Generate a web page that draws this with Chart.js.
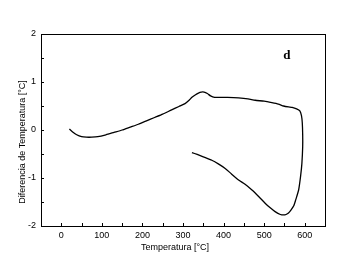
<!DOCTYPE html>
<html>
<head>
<meta charset="utf-8">
<script src="https://cdn.jsdelivr.net/npm/chart.js@4.4.1/dist/chart.umd.min.js"></script>
<style>
  html, body { margin: 0; padding: 0; background: #fff; }
  #wrap { width: 342px; height: 265px; position: relative; }
</style>
</head>
<body>
<div id="wrap"><canvas id="chart"></canvas></div>
<script>
// Temperatura [°C] along the run (heating up to ~595, then cooling back)
const temps = [20, 28, 38, 50, 62, 75, 90, 110, 130, 150, 170, 190, 210, 230, 250, 272, 290, 305, 315, 322,
  330, 338, 345, 352, 360, 368, 378, 390, 410, 437, 460, 478, 500, 519, 535, 548, 560, 569, 580, 588,
  592, 594, 595, 595, 593, 590, 585, 578, 573, 566, 560, 554, 548, 540, 527, 515, 503, 487, 470, 453,
  437, 420, 404, 388, 371, 350, 335, 322];
// Diferencia de Temperatura [°C]
const diffs = [0.02, -0.04, -0.10, -0.14, -0.15, -0.15, -0.14, -0.10, -0.05, 0.00, 0.06, 0.12, 0.19, 0.26, 0.33, 0.42, 0.49, 0.55, 0.62, 0.68,
  0.73, 0.77, 0.79, 0.79, 0.76, 0.71, 0.68, 0.68, 0.68, 0.67, 0.65, 0.62, 0.60, 0.57, 0.54, 0.50, 0.48, 0.47, 0.44, 0.40,
  0.30, 0.15, -0.10, -0.35, -0.70, -0.95, -1.25, -1.45, -1.58, -1.67, -1.73, -1.76, -1.77, -1.76, -1.70, -1.62, -1.53, -1.39, -1.25, -1.13,
  -1.04, -0.92, -0.80, -0.71, -0.63, -0.56, -0.51, -0.47];

const xLabelStep = 100;
const yLabelStep = 1;
const panelLabel = 'd';
const panelLabelAt = { x: 556, y: 1.55 };
const yTitle = 'Diferencia de Temperatura [°C]';
const xTitle = 'Temperatura [°C]';

const FONT = '"Liberation Sans", Arial, sans-serif';

// box, inward tick marks, axis titles and panel letter
const frame = {
  id: 'frame',
  afterDraw(chart) {
    const { ctx, chartArea: a, scales } = chart;
    ctx.save();
    ctx.strokeStyle = '#000';
    ctx.lineWidth = 1;
    ctx.strokeRect(Math.round(a.left) + 0.5, Math.round(a.top) + 0.5,
      Math.round(a.right - a.left), Math.round(a.bottom - a.top));

    ctx.beginPath();
    scales.x.ticks.forEach(t => {
      const px = Math.round(scales.x.getPixelForValue(t.value)) + 0.5;
      if (px <= a.left + 1 || px >= a.right - 1) return;
      ctx.moveTo(px, a.bottom);
      ctx.lineTo(px, a.bottom - 3);
    });
    scales.y.ticks.forEach(t => {
      const py = Math.round(scales.y.getPixelForValue(t.value)) + 0.5;
      if (py <= a.top + 1 || py >= a.bottom - 1) return;
      ctx.moveTo(a.left, py);
      ctx.lineTo(a.left + 3, py);
    });
    ctx.stroke();

    ctx.fillStyle = '#000';
    ctx.font = '9px ' + FONT;
    ctx.textAlign = 'center';
    ctx.textBaseline = 'middle';
    ctx.fillText(xTitle, 175, 247.5);
    ctx.translate(23, 142);
    ctx.rotate(-Math.PI / 2);
    ctx.fillText(yTitle, 0, 0);
    ctx.setTransform(1, 0, 0, 1, 0, 0);

    ctx.font = 'bold 13px "Liberation Serif", "Times New Roman", serif';
    ctx.fillText(panelLabel, scales.x.getPixelForValue(panelLabelAt.x), scales.y.getPixelForValue(panelLabelAt.y));
    ctx.restore();
  }
};

new Chart(document.getElementById('chart'), {
  type: 'line',
  data: {
    datasets: [{
      data: temps.map((t, i) => ({ x: t, y: diffs[i] })),
      borderColor: '#000',
      borderWidth: 1.3,
      pointRadius: 0,
      tension: 0.2,
      fill: false
    }]
  },
  options: {
    responsive: true,
    maintainAspectRatio: false,
    animation: false,
    layout: { padding: { left: 0, top: 34, right: 17, bottom: 8 } },
    plugins: { legend: { display: false }, tooltip: { enabled: false } },
    scales: {
      x: {
        type: 'linear',
        min: -50,
        max: 650,
        afterFit: s => { s.height = 31; },
        grid: { display: false, drawTicks: false },
        border: { display: false },
        ticks: {
          stepSize: 50,
          autoSkip: false,
          maxRotation: 0,
          padding: 4,
          color: '#000',
          font: { family: FONT, size: 9 },
          callback: v => (v % xLabelStep === 0 && v >= 0 && v <= 600) ? v : ''
        }
      },
      y: {
        min: -2,
        max: 2,
        afterFit: s => { s.width = 41; },
        grid: { display: false, drawTicks: false },
        border: { display: false },
        ticks: {
          stepSize: 0.5,
          autoSkip: false,
          padding: 5,
          color: '#000',
          font: { family: FONT, size: 9 },
          callback: v => (v % yLabelStep === 0) ? v : ''
        }
      }
    }
  },
  plugins: [frame]
});
</script>
</body>
</html>
